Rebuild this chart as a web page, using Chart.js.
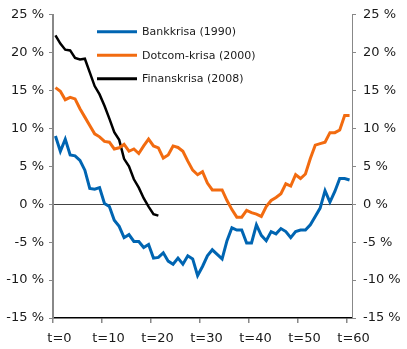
<!DOCTYPE html>
<html>
<head>
<meta charset="utf-8">
<script src="https://cdn.jsdelivr.net/npm/chart.js@4.4.1/dist/chart.umd.min.js"></script>
<style>
html,body{margin:0;padding:0;background:#fff;}
#wrap{width:407px;height:349px;position:relative;}
</style>
</head>
<body>
<div id="wrap"><canvas id="c" width="407" height="349"></canvas></div>
<script>
// Categories: months since crisis start
const t = [0,1,2,3,4,5,6,7,8,9,10,11,12,13,14,15,16,17,18,19,20,21,22,23,24,25,26,27,28,29,30,
  31,32,33,34,35,36,37,38,39,40,41,42,43,44,45,46,47,48,49,50,51,52,53,54,55,56,57,58,59,60];

const seriesNames = ['Bankkrisa (1990)', 'Dotcom-krisa (2000)', 'Finanskrisa (2008)'];

const bankkrisa = [9.0,7.0,8.6,6.5,6.4,5.8,4.5,2.1,2.0,2.2,0.1,-0.3,-2.1,-2.9,-4.4,-4.0,-4.9,-4.9,-5.7,-5.3,
  -7.1,-7.0,-6.4,-7.5,-7.9,-7.1,-7.9,-6.8,-7.2,-9.4,-8.2,-6.8,-6.0,-6.6,-7.2,-4.8,-3.1,-3.4,-3.4,-5.1,
  -5.1,-2.7,-4.1,-4.8,-3.6,-3.9,-3.2,-3.6,-4.4,-3.6,-3.4,-3.4,-2.7,-1.6,-0.5,1.8,0.3,1.7,3.4,3.4,3.2];

const dotcom = [15.4,14.9,13.8,14.1,13.9,12.6,11.5,10.4,9.3,8.9,8.3,8.2,7.3,7.45,7.9,7.0,7.3,6.7,7.7,8.6,
  7.7,7.45,6.1,6.5,7.7,7.5,7.0,5.7,4.5,3.9,4.3,2.8,1.9,1.9,1.9,0.5,-0.7,-1.7,-1.7,-0.8,
  -1.1,-1.3,-1.6,-0.3,0.5,0.9,1.4,2.7,2.4,3.9,3.4,4.0,6.05,7.8,8.0,8.2,9.45,9.45,9.8,11.7,11.7];

const finanskrisa = [22.3,21.2,20.4,20.3,19.3,19.1,19.2,17.4,15.6,14.5,13.0,11.3,9.5,8.5,6.0,5.0,3.3,2.2,0.8,-0.3,
  -1.3,-1.5];

const yTicks = [-15,-10,-5,0,5,10,15,20,25];
const xTickEvery = 10;

const colors = ['#0065B2', '#F26B10', '#000000'];
const FONT = 'DejaVu Sans';

const legendPlugin = {
  id: 'customLegend',
  afterDatasetsDraw(chart) {
    const ctx = chart.ctx;
    const a = chart.chartArea;
    ctx.save();
    chart.data.datasets.forEach((ds, i) => {
      const y = a.top + 17 + i * 23.5;
      const x0 = a.left + 44;
      ctx.strokeStyle = ds.borderColor;
      ctx.lineWidth = 3;
      ctx.beginPath();
      ctx.moveTo(x0, y);
      ctx.lineTo(x0 + 40, y);
      ctx.stroke();
      ctx.fillStyle = '#1a1a1a';
      ctx.font = '11px "' + FONT + '"';
      ctx.textBaseline = 'middle';
      ctx.textAlign = 'left';
      ctx.fillText(ds.label, x0 + 45, y + 0.5);
    });
    ctx.restore();
  }
};

const yCommon = {
  type: 'linear',
  min: -15, max: 25,
  afterBuildTicks: s => { s.ticks = yTicks.map(v => ({value: v})); },
  ticks: {
    callback: v => v + ' %',
    color: '#1a1a1a',
    font: {family: FONT, size: 13},
    padding: 5
  }
};

new Chart(document.getElementById('c'), {
  type: 'line',
  data: {
    labels: t,
    datasets: [
      {label: seriesNames[0], data: bankkrisa, borderColor: colors[0], borderWidth: 3, pointRadius: 0, tension: 0, yAxisID: 'y'},
      {label: seriesNames[1], data: dotcom, borderColor: colors[1], borderWidth: 3, pointRadius: 0, tension: 0, yAxisID: 'y'},
      {label: seriesNames[2], data: finanskrisa, borderColor: colors[2], borderWidth: 2.5, pointRadius: 0, tension: 0, yAxisID: 'y'}
    ]
  },
  options: {
    responsive: false,
    animation: false,
    devicePixelRatio: 1,
    layout: {padding: {top: 12, left: 0, right: 0, bottom: 0}},
    plugins: {legend: {display: false}, tooltip: {enabled: false}},
    scales: {
      x: {
        type: 'category',
        offset: true,
        afterFit: s => { s.height = 31; },
        grid: {
          offset: true,
          drawOnChartArea: false,
          tickLength: 5,
          tickColor: c => (c.index % xTickEvery === 0 ? '#888' : 'rgba(0,0,0,0)'),
          lineWidth: 1.5
        },
        border: {display: true, color: '#000', width: 1.5},
        ticks: {
          autoSkip: false,
          maxRotation: 0,
          callback: (v, i) => (i % xTickEvery === 0 ? 't=' + t[i] : ''),
          color: '#1a1a1a',
          font: {family: FONT, size: 13},
          padding: 8,
          labelOffset: 4
        }
      },
      y: Object.assign({}, yCommon, {
        position: 'left',
        afterFit: s => { s.width = 53; },
        grid: {
          drawOnChartArea: true,
          color: c => (c.tick && c.tick.value === 0 ? '#444' : 'rgba(0,0,0,0)'),
          tickColor: '#888',
          tickLength: 4,
          lineWidth: 1
        },
        border: {display: true, color: '#888', width: 2}
      }),
      y2: Object.assign({}, yCommon, {
        position: 'right',
        afterFit: s => { s.width = 55; },
        grid: {
          drawOnChartArea: false,
          tickColor: '#888',
          tickLength: 4,
          lineWidth: 1
        },
        border: {display: true, color: '#888', width: 1},
        ticks: Object.assign({}, yCommon.ticks, {padding: 7})
      })
    }
  },
  plugins: [legendPlugin]
});
</script>
</body>
</html>
